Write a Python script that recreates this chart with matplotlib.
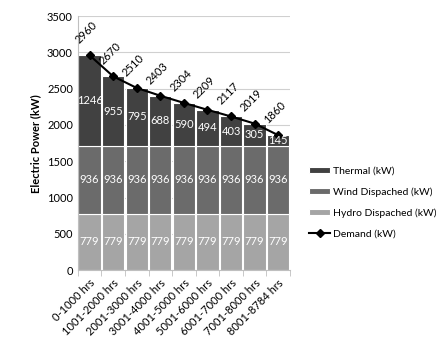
import matplotlib
matplotlib.use("Agg")
import matplotlib.pyplot as plt
import numpy as np

plt.rcParams['font.family'] = ['Lato', 'DejaVu Sans']

periods = ["0-1000 hrs", "1001-2000 hrs", "2001-3000 hrs", "3001-4000 hrs",
           "4001-5000 hrs", "5001-6000 hrs", "6001-7000 hrs", "7001-8000 hrs",
           "8001-8784 hrs"]
hydro = [779, 779, 779, 779, 779, 779, 779, 779, 779]
wind = [936, 936, 936, 936, 936, 936, 936, 936, 936]
thermal = [1246, 955, 795, 688, 590, 494, 403, 305, 145]
demand = [2960, 2670, 2510, 2403, 2304, 2209, 2117, 2019, 1860]
yticks = [0, 500, 1000, 1500, 2000, 2500, 3000, 3500]

fig = plt.figure(figsize=(4.42, 3.42), dpi=100)
fig.patch.set_facecolor("white")
ax = fig.add_axes([0.176, 0.21, 0.48, 0.743])

x = np.arange(len(periods))
w = 0.95
c_hydro, c_wind, c_thermal = "#a5a5a5", "#6b6b6b", "#414141"
b1 = ax.bar(x, hydro, w, color=c_hydro, edgecolor="white", linewidth=0.8,
            label="Hydro Dispached (kW)", zorder=2)
b2 = ax.bar(x, wind, w, bottom=hydro, color=c_wind, edgecolor="white",
            linewidth=0.8, label="Wind Dispached (kW)", zorder=2)
base = np.array(hydro) + np.array(wind)
b3 = ax.bar(x, thermal, w, bottom=base, color=c_thermal, edgecolor="white",
            linewidth=0.8, label="Thermal (kW)", zorder=2)
ln, = ax.plot(x, demand, color="black", marker="D", markersize=4,
              linewidth=1.5, label="Demand (kW)", zorder=4)

for i in range(len(periods)):
    ax.text(x[i], hydro[i] / 2, str(hydro[i]), ha="center", va="center",
            color="white", fontsize=8, zorder=5)
    ax.text(x[i], hydro[i] + wind[i] / 2, str(wind[i]), ha="center",
            va="center", color="white", fontsize=8, zorder=5)
    ax.text(x[i], base[i] + thermal[i] / 2, str(thermal[i]), ha="center",
            va="center", color="white", fontsize=8, zorder=5)
    ax.annotate(str(demand[i]), (x[i], demand[i]), xytext=(-6, 7),
                textcoords="offset points", rotation=45, ha="left",
                va="bottom", fontsize=8, rotation_mode="anchor", zorder=5)

ax.set_xlim(-0.5, len(periods) - 0.5)
ax.set_ylim(0, 3500)
ax.set_yticks(yticks)
ax.tick_params(axis="y", length=0, labelsize=8)
ax.set_xticks(x)
ax.set_xticks(np.arange(len(periods) + 1) - 0.5, minor=True)
ax.set_xticklabels(periods, rotation=45, ha="right", rotation_mode="anchor",
                   fontsize=8)
ax.tick_params(axis="x", which="major", length=0, pad=5)
ax.tick_params(axis="x", which="minor", length=4, color="#bfbfbf")
ax.grid(axis="y", color="#d0d0d0", linewidth=0.8, zorder=0)
for s in ["top", "right"]:
    ax.spines[s].set_visible(False)
for s in ["left", "bottom"]:
    ax.spines[s].set_color("#bfbfbf")
ax.set_ylabel("Electric Power (kW)", fontsize=8, fontweight="bold")

fig.legend(handles=[b3, b2, b1, ln],
           labels=["Thermal (kW)", "Wind Dispached (kW)",
                   "Hydro Dispached (kW)", "Demand (kW)"],
           loc="upper left", bbox_to_anchor=(0.69, 0.525), frameon=False,
           fontsize=7.5, handlelength=2.0, handleheight=0.6,
           handletextpad=0.3, labelspacing=1.1, borderaxespad=0)

fig.savefig("out.png", dpi=100)
